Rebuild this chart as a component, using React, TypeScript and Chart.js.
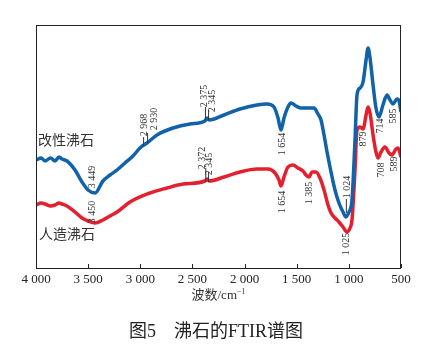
import React, { useEffect, useRef } from "react";
import { Chart, registerables } from "chart.js";

Chart.register(...registerables);

// Wavenumbers (cm^-1) and arbitrary transmittance units
const modifiedWave = [4000, 3950, 3914, 3860, 3818, 3780, 3751, 3703, 3626, 3559, 3501, 3434, 3358, 3290, 3223, 3147, 3070, 3003, 2936, 2840, 2686, 2523, 2380, 2360, 2340, 2197, 2044, 1881, 1785, 1718, 1679, 1651, 1622, 1584, 1555, 1507, 1459, 1392, 1334, 1296, 1267, 1238, 1209, 1171, 1133, 1095, 1056, 1027, 999, 970, 941, 922, 893, 864, 835, 816, 797, 768, 740, 711, 673, 634, 605, 577, 538, 519, 500];
const modifiedVal = [108, 110, 107, 110, 107, 111, 109, 107, 98, 86, 78, 75, 87, 93, 98, 105, 112, 120, 125, 133, 140, 144, 147, 150, 148, 153, 159, 163, 164, 161, 150, 138, 150, 161, 165, 162, 160, 160, 160, 154, 148, 133, 116, 96, 78, 65, 56, 51, 56, 68, 128, 173, 180, 186, 208, 220, 210, 183, 160, 151, 163, 173, 168, 164, 169, 167, 156];

const synthWave = [4000, 3950, 3914, 3860, 3818, 3780, 3751, 3703, 3626, 3559, 3501, 3434, 3358, 3290, 3223, 3099, 2907, 2744, 2590, 2380, 2360, 2340, 2197, 2044, 1881, 1775, 1708, 1670, 1651, 1622, 1584, 1536, 1488, 1440, 1411, 1382, 1353, 1315, 1277, 1238, 1200, 1171, 1133, 1095, 1056, 1018, 989, 970, 941, 922, 893, 864, 835, 816, 797, 768, 740, 720, 692, 654, 615, 586, 548, 529, 500];
const synthVal = [63, 65, 64, 62, 63, 65, 64, 62, 56, 50, 47, 45, 48, 52, 56, 66, 75, 80, 84, 87, 89, 87, 91, 96, 99, 99, 95, 88, 82, 91, 101, 103, 100, 97, 93, 91, 96, 96, 90, 78, 63, 55, 50, 46, 41, 36, 40, 48, 98, 138, 141, 139, 153, 161, 155, 133, 116, 110, 116, 121, 115, 113, 119, 120, 111];

const xTicks = [4000, 3500, 3000, 2500, 2000, 1500, 1000, 500];

// Peak annotations: text, wavenumber position, value position
const peakText = ["3 449", "3 450", "2 968", "2 930", "2 375", "2 345", "2 372", "2 345", "1 654", "1 654", "1 385", "1 024", "1 025", "879", "714", "585", "708", "589"];
const peakWave = [3463, 3463, 2964, 2868, 2389, 2312, 2408, 2341, 1641, 1641, 1382, 1018, 1027, 864, 701, 577, 692, 567];
const peakVal = [91, 56, 143, 149, 172, 167, 110, 104, 124, 66, 75, 81, 24, 129, 142, 152, 98, 104];

// Leader lines: wavenumber, start value, end value
const leaderWave = [2968, 2930, 2375, 2345, 2372, 2345, 1024];
const leaderFrom = [131, 135, 161, 158, 100, 96, 69];
const leaderTo = [122, 125, 148, 148, 86, 86, 55];

const seriesNames = ["改性沸石", "人造沸石"];
const seriesLabelWave = [3712, 3703];
const seriesLabelVal = [128, 34];

const xTitle = "波数/cm";
const caption = "图5　沸石的FTIR谱图";

const blue = "#1262aa";
const red = "#e3202e";

const fmt = (v: number) =>
  v >= 1000 ? `${Math.floor(v / 1000)} ${String(v % 1000).padStart(3, "0")}` : String(v);

export default function App() {
  const ref = useRef<HTMLCanvasElement | null>(null);

  useEffect(() => {
    if (!ref.current) return;
    const serif = "'Liberation Serif', 'Times New Roman', serif";
    const cjk = "'Liberation Serif', 'Noto Sans CJK SC', serif";

    const decor = {
      id: "decor",
      afterDatasetsDraw(chart: any) {
        const { ctx, chartArea: a, scales } = chart;
        const xs = scales.x;
        const ys = scales.y;
        ctx.save();
        // frame
        ctx.strokeStyle = "#222";
        ctx.lineWidth = 1;
        ctx.strokeRect(a.left + 0.5, a.top + 0.5, a.right - a.left - 1, a.bottom - a.top);
        // inward ticks
        xs.ticks.forEach((t: any) => {
          const px = Math.round(xs.getPixelForValue(t.value)) + 0.5;
          ctx.beginPath();
          ctx.moveTo(px, a.bottom);
          ctx.lineTo(px, a.bottom - 4);
          ctx.stroke();
        });
        // leaders
        ctx.strokeStyle = "#333";
        leaderWave.forEach((w, i) => {
          const px = xs.getPixelForValue(w);
          ctx.beginPath();
          ctx.moveTo(px, ys.getPixelForValue(leaderFrom[i]));
          ctx.lineTo(px, ys.getPixelForValue(leaderTo[i]));
          ctx.stroke();
        });
        // peak labels
        ctx.fillStyle = "#333";
        ctx.font = `10px ${serif}`;
        ctx.textAlign = "center";
        ctx.textBaseline = "middle";
        peakText.forEach((txt, i) => {
          const px = xs.getPixelForValue(peakWave[i]);
          const py = ys.getPixelForValue(peakVal[i]);
          ctx.save();
          ctx.translate(px, py);
          ctx.rotate(-Math.PI / 2);
          ctx.fillText(txt, 0, 0);
          ctx.restore();
        });
        // series labels
        ctx.font = `14px 'Noto Sans CJK SC', sans-serif`;
        ctx.fillStyle = "#333";
        seriesNames.forEach((n, i) => {
          ctx.fillText(n, xs.getPixelForValue(seriesLabelWave[i]), ys.getPixelForValue(seriesLabelVal[i]));
        });
        // axis title
        const cx = (a.left + a.right) / 2;
        ctx.font = `13px ${cjk}`;
        const w1 = ctx.measureText(xTitle).width;
        ctx.font = `8px ${serif}`;
        const w2 = ctx.measureText("−1").width;
        const start = cx - (w1 + w2) / 2;
        ctx.textAlign = "left";
        ctx.font = `13px ${cjk}`;
        ctx.fillText(xTitle, start, a.bottom + 28);
        ctx.font = `8px ${serif}`;
        ctx.fillText("−1", start + w1, a.bottom + 24);
        // caption
        ctx.textAlign = "center";
        ctx.font = `18px ${cjk}`;
        ctx.fillStyle = "#222";
        ctx.fillText(caption, 216, 332);
        ctx.restore();
      },
    };

    const chart = new Chart(ref.current, {
      type: "line",
      data: {
        datasets: [
          {
            label: seriesNames[0],
            data: modifiedWave.map((w, i) => ({ x: w, y: modifiedVal[i] })),
            borderColor: blue,
            borderWidth: 3.5,
            pointRadius: 0,
            cubicInterpolationMode: "monotone",
            fill: false,
          },
          {
            label: seriesNames[1],
            data: synthWave.map((w, i) => ({ x: w, y: synthVal[i] })),
            borderColor: red,
            borderWidth: 3.5,
            pointRadius: 0,
            cubicInterpolationMode: "monotone",
            fill: false,
          },
        ],
      },
      options: {
        animation: false,
        responsive: false,
        devicePixelRatio: 1,
        layout: { padding: { left: 36, right: 47, top: 25, bottom: 0 } },
        plugins: { legend: { display: false }, tooltip: { enabled: false } },
        scales: {
          x: {
            type: "linear",
            reverse: true,
            min: 500,
            max: 4000,
            afterFit: (s: any) => {
              s.height = 90;
            },
            afterBuildTicks: (s: any) => {
              s.ticks = xTicks.map((v) => ({ value: v }));
            },
            grid: { display: false, drawTicks: false },
            border: { display: false },
            ticks: {
              autoSkip: false,
              maxRotation: 0,
              padding: 4,
              color: "#222",
              font: { family: serif, size: 13 },
              callback: (v: any) => fmt(Number(v)),
            },
          },
          y: { display: false, min: 0, max: 243 },
        },
      },
      plugins: [decor],
    } as any);
    return () => chart.destroy();
  }, []);

  return (
    <div style={{ position: "absolute", left: 0, top: 0, width: 448, height: 358, background: "#fff" }}>
      <canvas ref={ref} width={448} height={358} style={{ display: "block" }} />
    </div>
  );
}
